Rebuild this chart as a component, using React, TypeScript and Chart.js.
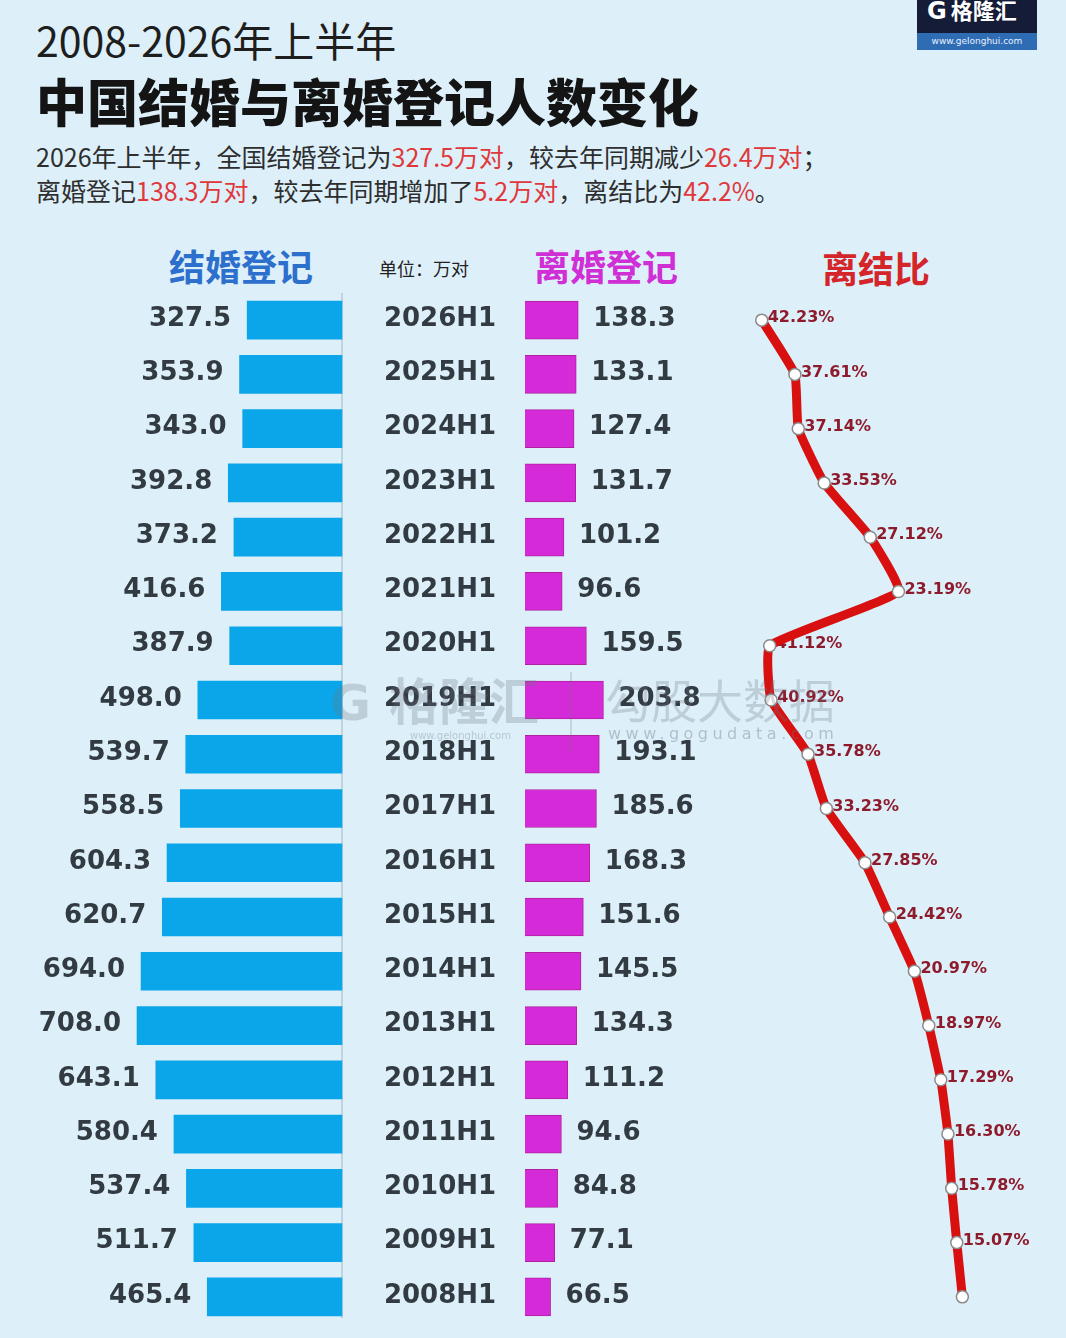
import React, { useEffect, useRef } from "react";
import { Chart, registerables } from "chart.js";

Chart.register(...registerables);

const categories = [
  "2026H1", "2025H1", "2024H1", "2023H1", "2022H1", "2021H1", "2020H1", "2019H1", "2018H1", "2017H1",
  "2016H1", "2015H1", "2014H1", "2013H1", "2012H1", "2011H1", "2010H1", "2009H1", "2008H1",
];
const marriage = [
  327.5, 353.9, 343.0, 392.8, 373.2, 416.6, 387.9, 498.0, 539.7, 558.5,
  604.3, 620.7, 694.0, 708.0, 643.1, 580.4, 537.4, 511.7, 465.4,
];
const divorce = [
  138.3, 133.1, 127.4, 131.7, 101.2, 96.6, 159.5, 203.8, 193.1, 185.6,
  168.3, 151.6, 145.5, 134.3, 111.2, 94.6, 84.8, 77.1, 66.5,
];
const ratio = [
  42.23, 37.61, 37.14, 33.53, 27.12, 23.19, 41.12, 40.92, 35.78, 33.23,
  27.85, 24.42, 20.97, 18.97, 17.29, 16.3, 15.78, 15.07, 14.29,
];

const CJK = '"Noto Sans CJK SC", "Noto Sans", sans-serif';
const NUM = '"DejaVu Sans", "Noto Sans", sans-serif';

const labelPlugin = {
  id: "labelPlugin",
  beforeDatasetsDraw(chart: any) {
    const ctx = chart.ctx;
    const xL = chart.scales.xL;
    ctx.save();
    const dx = xL.getPixelForValue(0);
    ctx.strokeStyle = "rgba(180,196,206,0.9)";
    ctx.lineWidth = 1.5;
    ctx.beginPath();
    ctx.moveTo(dx, chart.chartArea.top);
    ctx.lineTo(dx, chart.chartArea.bottom - 6);
    ctx.stroke();
    ctx.font = `bold 16px ${NUM}`;
    ctx.fillStyle = "#8e1b2c";
    ctx.textBaseline = "middle";
    ctx.textAlign = "left";
    const lineMeta = chart.getDatasetMeta(2);
    lineMeta.data.forEach((pt: any, i: number) => {
      if (i === ratio.length - 1) return;
      ctx.fillText(ratio[i].toFixed(2) + "%", pt.x + 6, pt.y - 2);
    });
    ctx.restore();
  },
  afterDatasetsDraw(chart: any) {
    const ctx = chart.ctx;
    const y = chart.scales.y;
    ctx.save();
    ctx.textBaseline = "middle";
    ctx.font = `bold 26px ${NUM}`;
    ctx.fillStyle = "#323a42";
    const m0 = chart.getDatasetMeta(0);
    m0.data.forEach((bar: any, i: number) => {
      ctx.textAlign = "right";
      ctx.fillText(marriage[i].toFixed(1), bar.x - 16, bar.y - 1);
    });
    const m1 = chart.getDatasetMeta(1);
    m1.data.forEach((bar: any, i: number) => {
      ctx.textAlign = "left";
      ctx.fillText(divorce[i].toFixed(1), bar.x + 15, bar.y - 1);
    });
    ctx.textAlign = "center";
    categories.forEach((c, i) => {
      ctx.fillText(c, 440, y.getPixelForValue(i) - 1);
    });
    ctx.restore();
  },
};

function RatioChart() {
  const ref = useRef<HTMLCanvasElement | null>(null);
  useEffect(() => {
    if (!ref.current) return;
    const chart = new Chart(ref.current, {
      data: {
        labels: categories,
        datasets: [
          {
            type: "bar",
            label: "结婚登记",
            data: marriage,
            xAxisID: "xL",
            yAxisID: "y",
            backgroundColor: "#0aa6e9",
            borderWidth: 0,
            grouped: false,
            barThickness: 38,
            order: 3,
          } as any,
          {
            type: "bar",
            label: "离婚登记",
            data: divorce,
            xAxisID: "xR",
            yAxisID: "y",
            backgroundColor: "#d52ad8",
            borderColor: "#b0219f",
            borderWidth: 1,
            grouped: false,
            barThickness: 38,
            order: 2,
          } as any,
          {
            type: "line",
            label: "离结比",
            data: ratio,
            xAxisID: "xLine",
            yAxisID: "y",
            indexAxis: "y",
            borderColor: "#d8100f",
            borderWidth: 9,
            tension: 0.12,
            pointRadius: 6,
            pointBackgroundColor: "#ffffff",
            pointBorderColor: "#8a8a8a",
            pointBorderWidth: 1.5,
            clip: false,
            order: 1,
          } as any,
        ],
      },
      options: {
        indexAxis: "y",
        animation: false,
        responsive: true,
        maintainAspectRatio: false,
        layout: { padding: 0, autoPadding: false } as any,
        plugins: {
          legend: { display: false },
          tooltip: { enabled: false },
          title: { display: false },
        },
        scales: {
          y: { type: "category", display: false, offset: true, grid: { display: false } },
          xL: { type: "linear", axis: "x", display: false, reverse: true, min: -2501, max: 1181.3 },
          xR: { type: "linear", axis: "x", display: false, min: -1363.6, max: 1405.2 },
          xLine: { type: "linear", axis: "x", display: false, reverse: true, min: -0.14, max: 148.3 },
        } as any,
      },
      plugins: [labelPlugin],
    });
    return () => chart.destroy();
  }, []);
  return (
    <div style={{ position: "absolute", left: 0, top: 293, width: 1066, height: 1031 }}>
      <canvas ref={ref} />
    </div>
  );
}

export default function App() {
  const red = { color: "#e0383a" };
  return (
    <div
      style={{
        position: "absolute",
        left: 0,
        top: 0,
        width: 1066,
        height: 1338,
        overflow: "hidden",
        background: "#ddf0fa",
        fontFamily: CJK,
      }}
    >
      <div style={{ position: "absolute", left: 917, top: 0, width: 120, height: 50 }}>
        <div style={{ height: 33, background: "#141c38", color: "#fff", fontWeight: 700, fontSize: 22, lineHeight: "18px", paddingLeft: 10, overflow: "hidden" }}>
          <span style={{ fontFamily: NUM, fontSize: 24, marginRight: 4 }}>G</span>格隆汇
        </div>
        <div style={{ height: 17, background: "#2e6db4", color: "#e8f0ff", fontSize: 9, lineHeight: "17px", textAlign: "center", fontFamily: NUM }}>
          www.gelonghui.com
        </div>
      </div>
      <div style={{ position: "absolute", left: 36, top: 13, fontSize: 41, lineHeight: "52px", color: "#1e1e1e", whiteSpace: "nowrap" }}>
        2008-2026年上半年
      </div>
      <div style={{ position: "absolute", left: 36, top: 68, fontSize: 51, lineHeight: "64px", fontWeight: 900, color: "#141414", whiteSpace: "nowrap" }}>
        中国结婚与离婚登记人数变化
      </div>
      <div style={{ position: "absolute", left: 36, top: 139, fontSize: 25, lineHeight: "34px", color: "#2e2e2e", whiteSpace: "nowrap" }}>
        <div>
          2026年上半年，全国结婚登记为<span style={red}>327.5万对</span>，较去年同期减少<span style={red}>26.4万对</span>；
        </div>
        <div>
          离婚登记<span style={red}>138.3万对</span>，较去年同期增加了<span style={red}>5.2万对</span>，离结比为<span style={red}>42.2%</span>。
        </div>
      </div>
      <div style={{ position: "absolute", left: 141, width: 200, top: 239, textAlign: "center", fontSize: 36, fontWeight: 700, lineHeight: "52px", color: "#2d6fcc" }}>
        结婚登记
      </div>
      <div style={{ position: "absolute", left: 379, top: 255, fontSize: 18, lineHeight: "26px", color: "#222" }}>
        单位：万对
      </div>
      <div style={{ position: "absolute", left: 506, width: 200, top: 239, textAlign: "center", fontSize: 36, fontWeight: 700, lineHeight: "52px", color: "#d02fd6" }}>
        离婚登记
      </div>
      <div style={{ position: "absolute", left: 776, width: 200, top: 241, textAlign: "center", fontSize: 36, fontWeight: 700, lineHeight: "52px", color: "#d4262a" }}>
        离结比
      </div>
      <RatioChart />
      <div style={{ position: "absolute", left: 0, top: 0, width: 1066, height: 1338, pointerEvents: "none" }}>
        <div style={{ position: "absolute", left: 330, top: 668, fontSize: 50, lineHeight: "60px", color: "rgba(110,120,130,0.28)", fontWeight: 700, whiteSpace: "nowrap" }}>
          <span style={{ fontFamily: NUM, marginRight: 18 }}>G</span>格隆汇
        </div>
        <div style={{ position: "absolute", left: 410, top: 730, fontSize: 10, color: "rgba(110,120,130,0.35)", fontFamily: NUM }}>
          www.gelonghui.com
        </div>
        <div style={{ position: "absolute", left: 570, top: 672, width: 2, height: 80, background: "rgba(110,120,130,0.22)" }} />
        <div style={{ position: "absolute", left: 605, top: 668, fontSize: 46, lineHeight: "60px", color: "rgba(110,120,130,0.28)", whiteSpace: "nowrap" }}>
          勾股大数据
        </div>
        <div style={{ position: "absolute", left: 608, top: 724, fontSize: 16, letterSpacing: 4.5, color: "rgba(110,120,130,0.4)", fontFamily: NUM, whiteSpace: "nowrap" }}>
          www.gogudata.com
        </div>
      </div>
    </div>
  );
}
